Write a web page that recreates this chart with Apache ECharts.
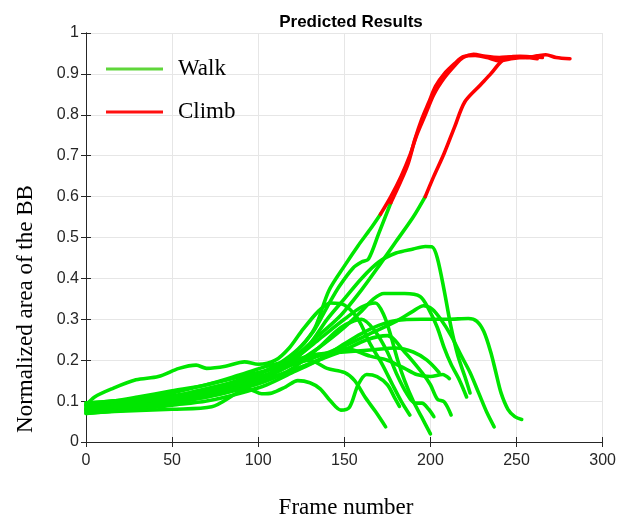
<!DOCTYPE html>
<html>
<head>
<meta charset="utf-8">
<script src="https://cdn.jsdelivr.net/npm/echarts@6/dist/echarts.min.js"></script>
<style>
  html, body { margin: 0; padding: 0; background: #fff; }
  #chart { width: 619px; height: 518px; }
</style>
</head>
<body>
<div id="chart"></div>
<script>
// 刻度
const xTicks = [0, 50, 100, 150, 200, 250, 300];
const yTicks = [0, 0.1, 0.2, 0.3, 0.4, 0.5, 0.6, 0.7, 0.8, 0.9, 1];

// Walk 曲线 (frame, area)
const walkA = [[0,0.085],[10,0.09],[20,0.095],[35,0.1],[50,0.11],[65,0.125],[80,0.14],[95,0.16],[105,0.175],[115,0.2],[125,0.235],[133,0.28],[141,0.37],[150,0.43],[158,0.48],[165,0.52],[171,0.557]];
const walkB = [[0,0.075],[12,0.08],[25,0.085],[40,0.095],[55,0.105],[70,0.12],[85,0.14],[100,0.165],[112,0.19],[122,0.22],[132,0.27],[140,0.33],[147,0.38],[155,0.425],[160,0.44],[164,0.447],[170,0.51],[177,0.585]];
const walkC = [[0,0.09],[15,0.095],[30,0.1],[45,0.11],[60,0.12],[75,0.135],[90,0.15],[105,0.175],[120,0.205],[135,0.26],[148,0.31],[160,0.372],[170,0.43],[180,0.49],[190,0.55],[197,0.6]];
const walkP = [[0,0.08],[15,0.085],[30,0.09],[50,0.1],[70,0.115],[90,0.14],[105,0.16],[118,0.19],[130,0.24],[140,0.3],[150,0.35],[160,0.4],[170,0.44],[180,0.462],[190,0.472],[197,0.478],[201,0.477],[204,0.45],[208,0.37],[212,0.28],[216,0.21],[220,0.16],[223,0.12]];
const walkQ = [[0,0.08],[15,0.085],[30,0.095],[50,0.105],[70,0.12],[90,0.14],[105,0.16],[120,0.19],[135,0.23],[150,0.28],[160,0.32],[167,0.35],[173,0.363],[185,0.363],[194,0.356],[199,0.325],[204,0.28],[208,0.23],[212,0.19],[217,0.15],[221,0.11]];
const walkR = [[0,0.07],[15,0.075],[30,0.08],[50,0.09],[70,0.1],[90,0.12],[105,0.14],[120,0.17],[135,0.2],[150,0.24],[160,0.265],[170,0.285],[180,0.297],[195,0.3],[210,0.3],[222,0.302],[227,0.295],[231,0.27],[235,0.22],[238,0.17],[241,0.12],[245,0.08],[249,0.062],[253,0.055]];
const walkS = [[0,0.09],[15,0.09],[30,0.1],[50,0.11],[70,0.125],[90,0.145],[105,0.165],[120,0.19],[135,0.21],[150,0.235],[165,0.265],[180,0.295],[190,0.32],[196,0.333],[201,0.325],[206,0.3],[212,0.26],[218,0.21],[223,0.17],[228,0.12],[233,0.07],[237,0.037]];
const walkK1 = [[0,0.09],[5,0.11],[15,0.13],[29,0.152],[42,0.16],[54,0.18],[64,0.188],[70,0.18],[81,0.185],[92,0.196],[100,0.19],[110,0.2],[118,0.23],[125,0.27],[135,0.32],[142,0.34],[150,0.335],[158,0.3],[165,0.24],[172,0.19],[178,0.14],[183,0.1],[188,0.066]];
const walkK2 = [[0,0.08],[15,0.082],[30,0.09],[50,0.1],[70,0.115],[90,0.14],[105,0.165],[120,0.2],[135,0.25],[150,0.3],[160,0.33],[168,0.34],[173,0.31],[177,0.26],[181,0.2],[185,0.15],[190,0.1],[195,0.06],[200,0.02]];
const walkK3 = [[0,0.075],[15,0.08],[30,0.085],[50,0.095],[70,0.11],[90,0.13],[105,0.15],[120,0.18],[135,0.23],[148,0.28],[160,0.3],[168,0.27],[175,0.22],[180,0.17],[186,0.12],[191,0.095],[195,0.095],[199,0.08],[202,0.062]];
const walkK4 = [[0,0.085],[15,0.09],[30,0.095],[50,0.105],[70,0.12],[90,0.135],[105,0.155],[120,0.175],[135,0.2],[150,0.225],[163,0.25],[175,0.26],[185,0.22],[195,0.17],[200,0.14],[204,0.105],[208,0.098],[212,0.066]];
const walkDip = [[0,0.07],[20,0.075],[50,0.08],[73,0.086],[88,0.12],[95,0.128],[102,0.118],[108,0.12],[116,0.135],[123,0.15],[130,0.145],[136,0.13],[142,0.1],[148,0.078],[153,0.085],[158,0.14],[163,0.165],[169,0.16],[175,0.14],[179,0.11],[182,0.087]];
const walkE1 = [[0,0.095],[15,0.1],[30,0.105],[50,0.12],[70,0.14],[90,0.16],[105,0.175],[120,0.19],[130,0.2],[140,0.18],[150,0.17],[156,0.15],[162,0.11],[168,0.075],[174,0.037]];
const walkE7 = [[0,0.08],[15,0.085],[30,0.09],[50,0.1],[70,0.11],[90,0.13],[105,0.15],[120,0.175],[135,0.2],[150,0.23],[165,0.21],[175,0.2],[185,0.18],[192,0.165],[200,0.16],[207,0.165],[211,0.155]];
const walkM = [[0,0.095],[15,0.1],[30,0.11],[50,0.125],[70,0.14],[90,0.165],[105,0.185],[120,0.2],[135,0.215],[150,0.22],[165,0.225],[180,0.23],[190,0.22],[198,0.2],[205,0.17]];

// Climb 曲线
const climbA = [[171,0.557],[177,0.6],[183,0.65],[188,0.7],[192,0.75],[197,0.8],[202,0.85],[208,0.89],[214,0.92],[219,0.94],[225,0.948],[232,0.943],[240,0.94],[248,0.942],[256,0.94],[262,0.944],[267,0.947],[273,0.94],[281,0.937]];
const climbB = [[177,0.585],[182,0.63],[187,0.68],[191,0.74],[195,0.79],[199,0.83],[203,0.87],[208,0.9],[214,0.925],[219,0.942],[226,0.945],[233,0.94],[240,0.932],[248,0.938],[255,0.94],[262,0.937]];
const climbC = [[197,0.6],[202,0.65],[208,0.706],[214,0.77],[220,0.832],[229,0.873],[235,0.9],[241,0.93],[245,0.94],[252,0.943],[258,0.942],[265,0.94]];

const walkCurves = [walkA, walkB, walkC, walkP, walkQ, walkR, walkS, walkK1, walkK2, walkK3, walkK4, walkDip, walkE1, walkE7, walkM];
const climbCurves = [climbA, climbB, climbC];

const GREEN = '#00e600';
const RED = '#ff0000';

const mkLine = (name, d, color) => ({
  type: 'line',
  name: name,
  data: d,
  showSymbol: false,
  smooth: 0.3,
  lineStyle: { color: color, width: 3.6, cap: 'round', join: 'round' },
  itemStyle: { color: color },
  xAxisIndex: 0,
  yAxisIndex: 0
});

let series = [];
walkCurves.forEach(d => series.push(mkLine('Walk', d, GREEN)));
climbCurves.forEach(d => series.push(mkLine('Climb', d, RED)));

const axisLineStyle = { color: '#262626', width: 1 };
const tickLabel = { fontFamily: 'Liberation Sans', fontSize: 16, color: '#262626' };

let myChart = echarts.init(document.getElementById('chart'), null, { renderer: 'canvas' });
let option = {
  animation: false,
  backgroundColor: '#fff',
  title: {
    text: 'Predicted Results',
    left: 346, top: 9,
    textAlign: 'center',
    textStyle: { fontFamily: 'Liberation Sans', fontWeight: 'bold', fontSize: 17, color: '#000' }
  },
  grid: { left: 86, top: 33, width: 520, height: 409, containLabel: false },
  legend: {
    left: 101, top: 52,
    orient: 'vertical',
    itemWidth: 57, itemHeight: 3,
    itemGap: 19,
    icon: 'rect',
    selectedMode: false,
    data: [
      { name: 'Walk', itemStyle: { color: '#5fd63a' } },
      { name: 'Climb', itemStyle: { color: '#ff1010' } }
    ],
    textStyle: { fontFamily: 'Liberation Serif', fontSize: 23, color: '#000', lineHeight: 24, padding: [0, 0, 0, 10] }
  },
  xAxis: [
    {
      type: 'value', min: 0, max: 300, interval: 50, position: 'bottom',
      axisLine: { show: true, lineStyle: axisLineStyle },
      axisTick: { show: true, inside: true, length: 5, lineStyle: axisLineStyle },
      axisLabel: Object.assign({ margin: 11, formatter: v => xTicks.includes(v) ? String(v) : '' }, tickLabel),
      splitLine: { show: true, lineStyle: { color: '#e6e6e6', width: 1 } }
    },
    {
      type: 'value', min: 0, max: 300, interval: 50, position: 'top',
      axisLine: { show: true, lineStyle: axisLineStyle },
      axisTick: { show: true, inside: true, length: 5, lineStyle: axisLineStyle },
      axisLabel: { show: false },
      splitLine: { show: false }
    }
  ],
  yAxis: [
    {
      type: 'value', min: 0, max: 1, interval: 0.1, position: 'left',
      axisLine: { show: true, lineStyle: axisLineStyle },
      axisTick: { show: true, inside: true, length: 5, lineStyle: axisLineStyle },
      axisLabel: Object.assign({ margin: 7, formatter: v => {
        let t = yTicks.find(k => Math.abs(k - v) < 1e-6);
        return t === undefined ? '' : String(t);
      } }, tickLabel),
      splitLine: { show: true, lineStyle: { color: '#e6e6e6', width: 1 } }
    },
    {
      type: 'value', min: 0, max: 1, interval: 0.1, position: 'right',
      axisLine: { show: true, lineStyle: axisLineStyle },
      axisTick: { show: true, inside: true, length: 5, lineStyle: axisLineStyle },
      axisLabel: { show: false },
      splitLine: { show: false }
    }
  ],
  graphic: [
    { // 纵轴标题
      type: 'text', x: 26, y: 309, rotation: Math.PI / 2,
      style: { text: 'Normalized area of the BB', fontFamily: 'Liberation Serif', fontSize: 23, fill: '#000', align: 'center', verticalAlign: 'middle' }
    },
    { // 横轴标题
      type: 'text', x: 346, y: 508,
      style: { text: 'Frame number', fontFamily: 'Liberation Serif', fontSize: 23, fill: '#000', align: 'center', verticalAlign: 'middle' }
    }
  ],
  series: series
};
myChart.setOption(option);
</script>
</body>
</html>
